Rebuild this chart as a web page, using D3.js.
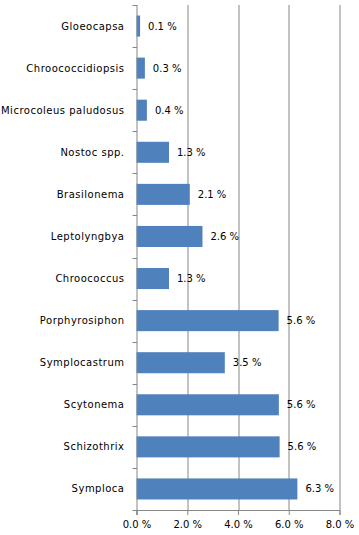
<!DOCTYPE html>
<html>
<head>
<meta charset="utf-8">
<script src="https://cdn.jsdelivr.net/npm/d3@7"></script>
<style>
	body { margin: 0; background: #fff; }
	svg text { font-family: "DejaVu Sans", Verdana, sans-serif; fill: #000; }
</style>
</head>
<body>
<div id="chart"></div>
<script>
'use strict';
(function() {
	//Categories, top to bottom
	var genera = ["Gloeocapsa", "Chroococcidiopsis", "Microcoleus paludosus", "Nostoc spp.",
		"Brasilonema", "Leptolyngbya", "Chroococcus", "Porphyrosiphon",
		"Symplocastrum", "Scytonema", "Schizothrix", "Symploca"];
	//Percent values (bar lengths)
	var percents = [0.14, 0.33, 0.41, 1.28, 2.1, 2.6, 1.28, 5.6, 3.48, 5.61, 5.64, 6.34];
	var xTicks = [0, 2, 4, 6, 8];

	var width = 359, height = 535;
	var margin = {top: 5, right: 19.5, bottom: 25, left: 136.5};
	var innerW = width - margin.left - margin.right;
	var innerH = height - margin.top - margin.bottom;

	var svg = d3.select('#chart').append('svg')
		.attr('width', width)
		.attr('height', height);
	var g = svg.append('g')
		.attr('transform', 'translate(' + margin.left + ',' + margin.top + ')');

	var x = d3.scaleLinear().domain([0, 8]).range([0, innerW]);
	var y = d3.scaleBand().domain(genera).range([0, innerH]).paddingInner(0.5).paddingOuter(0.25);

	var fmt = d3.format('.1f');
	var gridColor = '#868686';

	//Vertical gridlines
	g.selectAll('line.grid')
		.data(xTicks.slice(1))
		.enter().append('line')
			.attr('class', 'grid')
			.attr('x1', function(d) { return Math.round(x(d)) + 0.5; })
			.attr('x2', function(d) { return Math.round(x(d)) + 0.5; })
			.attr('y1', 0)
			.attr('y2', innerH)
			.attr('stroke', gridColor);

	//Bars
	g.selectAll('rect.bar')
		.data(percents)
		.enter().append('rect')
			.attr('class', 'bar')
			.attr('x', x(0))
			.attr('y', function(d, i) { return y(genera[i]); })
			.attr('width', function(d) { return x(d) - x(0); })
			.attr('height', y.bandwidth())
			.attr('fill', '#4F81BD');

	//Value labels
	g.selectAll('text.value')
		.data(percents)
		.enter().append('text')
			.attr('class', 'value')
			.attr('x', function(d) { return x(d) + 8; })
			.attr('y', function(d, i) { return y(genera[i]) + y.bandwidth() / 2; })
			.attr('dy', '0.35em')
			.style('font-size', '10px')
			.text(function(d) { return fmt(d) + ' %'; });

	//X axis
	var xAxis = g.append('g')
		.attr('transform', 'translate(0,' + innerH + ')')
		.call(d3.axisBottom(x).tickValues(xTicks).tickSize(5).tickPadding(6)
			.tickFormat(function(d) { return fmt(d) + ' %'; }));
	xAxis.select('.domain').attr('stroke', gridColor);
	xAxis.selectAll('.tick line').attr('stroke', gridColor);
	xAxis.selectAll('.tick text').style('font-size', '10px').style('font-family', '"DejaVu Sans", Verdana, sans-serif').attr('fill', '#000');

	//Y axis (ticks between categories)
	var yAxis = g.append('g');
	yAxis.append('line')
		.attr('x1', 0.5).attr('x2', 0.5)
		.attr('y1', 0).attr('y2', innerH + 5)
		.attr('stroke', gridColor);
	yAxis.selectAll('line.ytick')
		.data(d3.range(genera.length + 1))
		.enter().append('line')
			.attr('class', 'ytick')
			.attr('x1', -4).attr('x2', 0.5)
			.attr('y1', function(i) { return Math.round(i * innerH / genera.length) + 0.5; })
			.attr('y2', function(i) { return Math.round(i * innerH / genera.length) + 0.5; })
			.attr('stroke', gridColor);
	yAxis.selectAll('text.cat')
		.data(genera)
		.enter().append('text')
			.attr('class', 'cat')
			.attr('x', -12)
			.attr('y', function(d) { return y(d) + y.bandwidth() / 2; })
			.attr('dy', '0.35em')
			.attr('text-anchor', 'end')
			.style('font-size', '10px')
			.style('letter-spacing', '0.5px')
			.text(function(d) { return d; });
})();
</script>
</body>
</html>
